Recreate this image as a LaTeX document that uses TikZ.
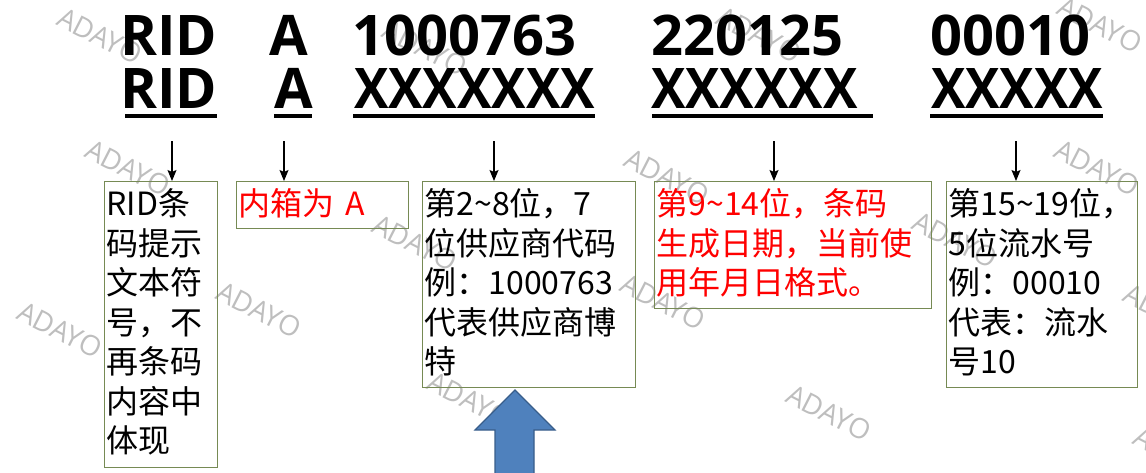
\documentclass[tikz,border=0pt]{standalone}
\usepackage{fontspec}
\usepackage{xcolor}
\usetikzlibrary{arrows.meta}
\setmainfont{Open Sans}
\newfontfamily\cjk{Noto Sans CJK SC}
\definecolor{boxline}{RGB}{118,138,84}
\definecolor{arrowfill}{RGB}{79,129,189}
\definecolor{arrowline}{RGB}{56,93,138}
\definecolor{wmgray}{RGB}{190,190,190}

\begin{document}
\begin{tikzpicture}[x=1pt,y=-1pt,
    code/.style={anchor=base west, inner sep=0pt, font=\fontsize{56}{60}\selectfont\bfseries},
    xcode/.style={code, xscale=0.92},
    infobox/.style={draw=boxline, line width=1.2pt, anchor=north west, align=left,
        inner xsep=2pt, inner ysep=0pt, text height=34pt, font=\cjk\fontsize{32}{39.5}\selectfont},
    pointer/.style={-{Stealth[length=11pt,width=9pt,inset=2pt]}, line width=1.2pt},
    uline/.style={line width=3.5pt},
    wmark/.style={text=wmgray, rotate=-27, inner sep=0pt, font=\fontsize{28}{30}\selectfont}]
    \useasboundingbox (0,0) rectangle (1146,472);

    \foreach \x/\y in {100/36,128/168,60/330,259/310,425/48,415/243,470/400,667/177,
                       663/302,759/35,955/240,829/413,1100/25,1097/168,1166/312,1176/455}
        \node[wmark] at (\x,\y) {ADAYO};

    \node[code] (ridv) at (120,55) {RID};
    \node[code] (typev) at (269,55) {A};
    \node[code] (supv) at (352,55) {1000763};
    \node[code] (datev) at (651,55) {220125};
    \node[code] (serv) at (930,55) {00010};

    \node[code] (ridc) at (120,108) {RID};
    \node[code] (typec) at (274,108) {A};
    \node[xcode] (supc) at (354,108) {XXXXXXX};
    \node[xcode] (datec) at (651,108) {XXXXXX};
    \node[xcode] (serc) at (931,108) {XXXXX};

    \draw[uline] (125,116) -- (217,116);
    \draw[uline] (274,116) -- (312,116);
    \draw[uline] (353,116) -- (595,116);
    \draw[uline] (652,116) -- (873,116);
    \draw[uline] (930,116) -- (1103,116);

    \node[infobox, text width=109pt, text depth=252pt] (ridbox) at (104,181)
        {RID条\\码提示\\文本符\\号，不\\再条码\\内容中\\体现};
    \node[infobox, text width=168pt, text depth=13pt, text=red] (typebox) at (236,181)
        {内箱为 A};
    \node[infobox, text width=209pt, text depth=172pt] (supbox) at (422,181)
        {第2\textasciitilde8位，7\\位供应商代码\\例：1000763\\代表供应商博\\特};
    \node[infobox, text width=273pt, text depth=93pt, text=red] (datebox) at (654,181)
        {第9\textasciitilde14位，条码\\生成日期，当前使\\用年月日格式。};
    \node[infobox, text width=187pt, text depth=172pt] (serbox) at (946,181)
        {第15\textasciitilde19位，\\5位流水号\\例：00010\\代表：流水\\号10};

    \coordinate (p1) at (172,141);
    \coordinate (p2) at (284,141);
    \coordinate (p3) at (494,141);
    \coordinate (p4) at (774,141);
    \coordinate (p5) at (1016,141);
    \draw[pointer] (p1) -- (p1 |- ridbox.north);
    \draw[pointer] (p2) -- (p2 |- typebox.north);
    \draw[pointer] (p3) -- (p3 |- supbox.north);
    \draw[pointer] (p4) -- (p4 |- datebox.north);
    \draw[pointer] (p5) -- (p5 |- serbox.north);

    \filldraw[fill=arrowfill, draw=arrowline, line width=1.2pt]
        (495,480) -- (495,430) -- (475,430) -- (515,390) -- (555,430) -- (534,430) -- (534,480) -- cycle;
\end{tikzpicture}
\end{document}
